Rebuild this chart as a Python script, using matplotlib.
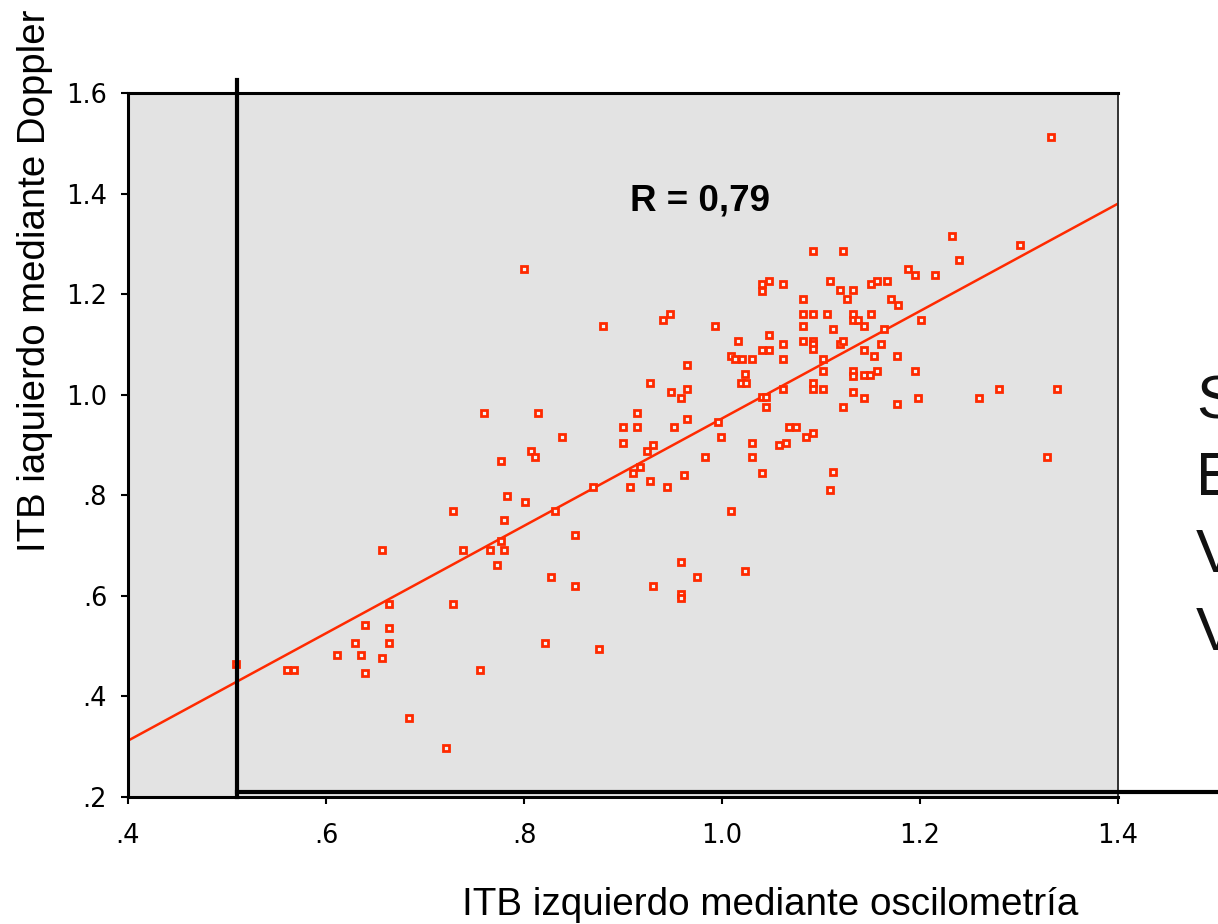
import matplotlib
matplotlib.use('Agg')
import matplotlib.pyplot as plt
from matplotlib.lines import Line2D

# ITB oscilometria (x) vs ITB Doppler (y), left side
osc = [0.509, 0.561, 0.568, 0.611, 0.629, 0.639, 0.635, 0.639, 0.657, 0.664,
       0.664, 0.664, 0.657, 0.684, 0.721, 0.728, 0.728, 0.738, 0.756, 0.760,
       0.777, 0.783, 0.780, 0.777, 0.766, 0.780, 0.773, 0.800, 0.880, 0.940,
       0.947, 0.993, 1.040, 1.040, 1.047, 1.062, 1.016, 1.047, 1.062, 1.009,
       1.013, 1.020, 1.030, 1.040, 1.047, 1.062, 0.965, 1.023, 1.019, 1.024,
       0.927, 0.948, 0.965, 0.959, 1.040, 1.044, 1.044, 1.062, 0.814, 0.914,
       0.900, 0.914, 0.952, 0.965, 0.996, 0.999, 0.838, 0.900, 1.030, 1.068,
       1.075, 1.058, 1.065, 0.930, 0.924, 0.807, 0.811, 0.983, 1.030, 0.917,
       0.910, 1.040, 0.962, 0.927, 0.870, 0.907, 0.944, 0.801, 0.831, 1.009,
       0.852, 0.959, 1.023, 0.827, 0.975, 0.852, 0.930, 0.959, 0.959, 0.821,
       0.876, 1.092, 1.122, 1.232, 1.239, 1.188, 1.195, 1.215, 1.109, 1.119,
       1.132, 1.126, 1.151, 1.157, 1.167, 1.082, 1.171, 1.178, 1.082, 1.092,
       1.106, 1.132, 1.151, 1.132, 1.137, 1.082, 1.112, 1.143, 1.164, 1.201,
       1.082, 1.092, 1.092, 1.092, 1.119, 1.122, 1.161, 1.143, 1.154, 1.177,
       1.102, 1.102, 1.132, 1.132, 1.143, 1.149, 1.157, 1.195, 1.092, 1.092,
       1.102, 1.132, 1.143, 1.122, 1.177, 1.198, 1.260, 1.085, 1.092, 1.112,
       1.109, 1.332, 1.301, 1.280, 1.338, 1.328]
dop = [0.465, 0.453, 0.453, 0.482, 0.506, 0.542, 0.482, 0.447, 0.476, 0.584,
       0.536, 0.506, 0.691, 0.357, 0.298, 0.769, 0.584, 0.691, 0.453, 0.964,
       0.868, 0.799, 0.751, 0.709, 0.691, 0.691, 0.661, 1.250, 1.137, 1.149,
       1.161, 1.137, 1.220, 1.206, 1.226, 1.220, 1.107, 1.119, 1.101, 1.077,
       1.071, 1.071, 1.071, 1.089, 1.089, 1.071, 1.059, 1.041, 1.023, 1.023,
       1.023, 1.005, 1.011, 0.993, 0.995, 0.995, 0.976, 1.011, 0.964, 0.964,
       0.936, 0.936, 0.936, 0.952, 0.946, 0.916, 0.916, 0.904, 0.904, 0.936,
       0.936, 0.900, 0.904, 0.900, 0.888, 0.888, 0.876, 0.876, 0.876, 0.856,
       0.844, 0.844, 0.840, 0.828, 0.817, 0.817, 0.817, 0.787, 0.769, 0.769,
       0.721, 0.667, 0.649, 0.638, 0.638, 0.620, 0.620, 0.604, 0.596, 0.506,
       0.494, 1.286, 1.286, 1.316, 1.268, 1.250, 1.238, 1.238, 1.226, 1.208,
       1.208, 1.190, 1.220, 1.226, 1.226, 1.190, 1.190, 1.178, 1.161, 1.161,
       1.161, 1.161, 1.161, 1.149, 1.149, 1.137, 1.131, 1.137, 1.131, 1.149,
       1.107, 1.107, 1.101, 1.091, 1.101, 1.107, 1.101, 1.089, 1.077, 1.077,
       1.071, 1.047, 1.047, 1.037, 1.039, 1.039, 1.047, 1.047, 1.023, 1.011,
       1.011, 1.005, 0.993, 0.976, 0.982, 0.993, 0.993, 0.916, 0.924, 0.846,
       0.811, 1.513, 1.298, 1.011, 1.011, 0.876]

# regression line end points
fit_x = [0.4, 1.4]
fit_y = [0.312, 1.380]

x_ticks = [0.4, 0.6, 0.8, 1.0, 1.2, 1.4]
x_tick_labels = ['.4', '.6', '.8', '1.0', '1.2', '1.4']
y_ticks = [0.2, 0.4, 0.6, 0.8, 1.0, 1.2, 1.4, 1.6]
y_tick_labels = ['.2', '.4', '.6', '.8', '1.0', '1.2', '1.4', '1.6']

red = '#ff2a00'

fig = plt.figure(figsize=(12.18, 9.24), dpi=100)
ax = fig.add_axes([128 / 1218, 1 - 797 / 924, 990 / 1218, 704 / 924])
ax.set_facecolor('#e3e3e3')

ax.plot(fit_x, fit_y, color=red, lw=1.8, zorder=2)
ax.plot(osc, dop, 's', ms=4.8, mew=2.0, mec=red, mfc='#f4f4f4', zorder=3)

ax.set_xlim(0.4, 1.4)
ax.set_ylim(0.2, 1.6)
ax.set_xticks(x_ticks)
ax.set_xticklabels(x_tick_labels)
ax.set_yticks(y_ticks)
ax.set_yticklabels(y_tick_labels)
ax.tick_params(direction='out', length=5, width=1.5, labelsize=18.5)
ax.tick_params(axis='y', pad=10)
ax.tick_params(axis='x', pad=14)
for lab in ax.get_xticklabels() + ax.get_yticklabels():
    lab.set_family('DejaVu Sans')

for s in ['left', 'top', 'bottom']:
    ax.spines[s].set_linewidth(2.2)
    ax.spines[s].set_color('black')
ax.spines['right'].set_linewidth(1.4)
ax.spines['right'].set_color('#333333')

ax.text(0.978, 1.386, 'R = 0,79', ha='center', va='center', fontsize=26.5,
        fontweight='bold', family='Liberation Sans')

# overlay frame lines from the slide
fig.add_artist(Line2D([237 / 1218, 237 / 1218], [1 - 80 / 924, 1 - 797 / 924],
                      transform=fig.transFigure, color='black', lw=3.0))
fig.add_artist(Line2D([237 / 1218, 1.0], [1 - 792 / 924, 1 - 792 / 924],
                      transform=fig.transFigure, color='black', lw=3.0))

fig.text(462 / 1218, 1 - 905 / 924, 'ITB izquierdo mediante oscilometría',
         ha='left', va='center', fontsize=27.8, family='Liberation Sans')
fig.text(35 / 1218, 1 - 552 / 924, 'ITB iaquierdo mediante Doppler',
         rotation=90, ha='center', va='bottom', fontsize=27.6, family='Liberation Sans')

# text of the next slide, cut off at the right edge
for letter, yy in zip(['S', 'E', 'V', 'V'], [403, 480, 557, 635]):
    fig.text(1196 / 1218, 1 - yy / 924, letter, ha='left', va='center',
             fontsize=44, family='Liberation Sans', color='#111111')

fig.savefig('out.png', dpi=100)
